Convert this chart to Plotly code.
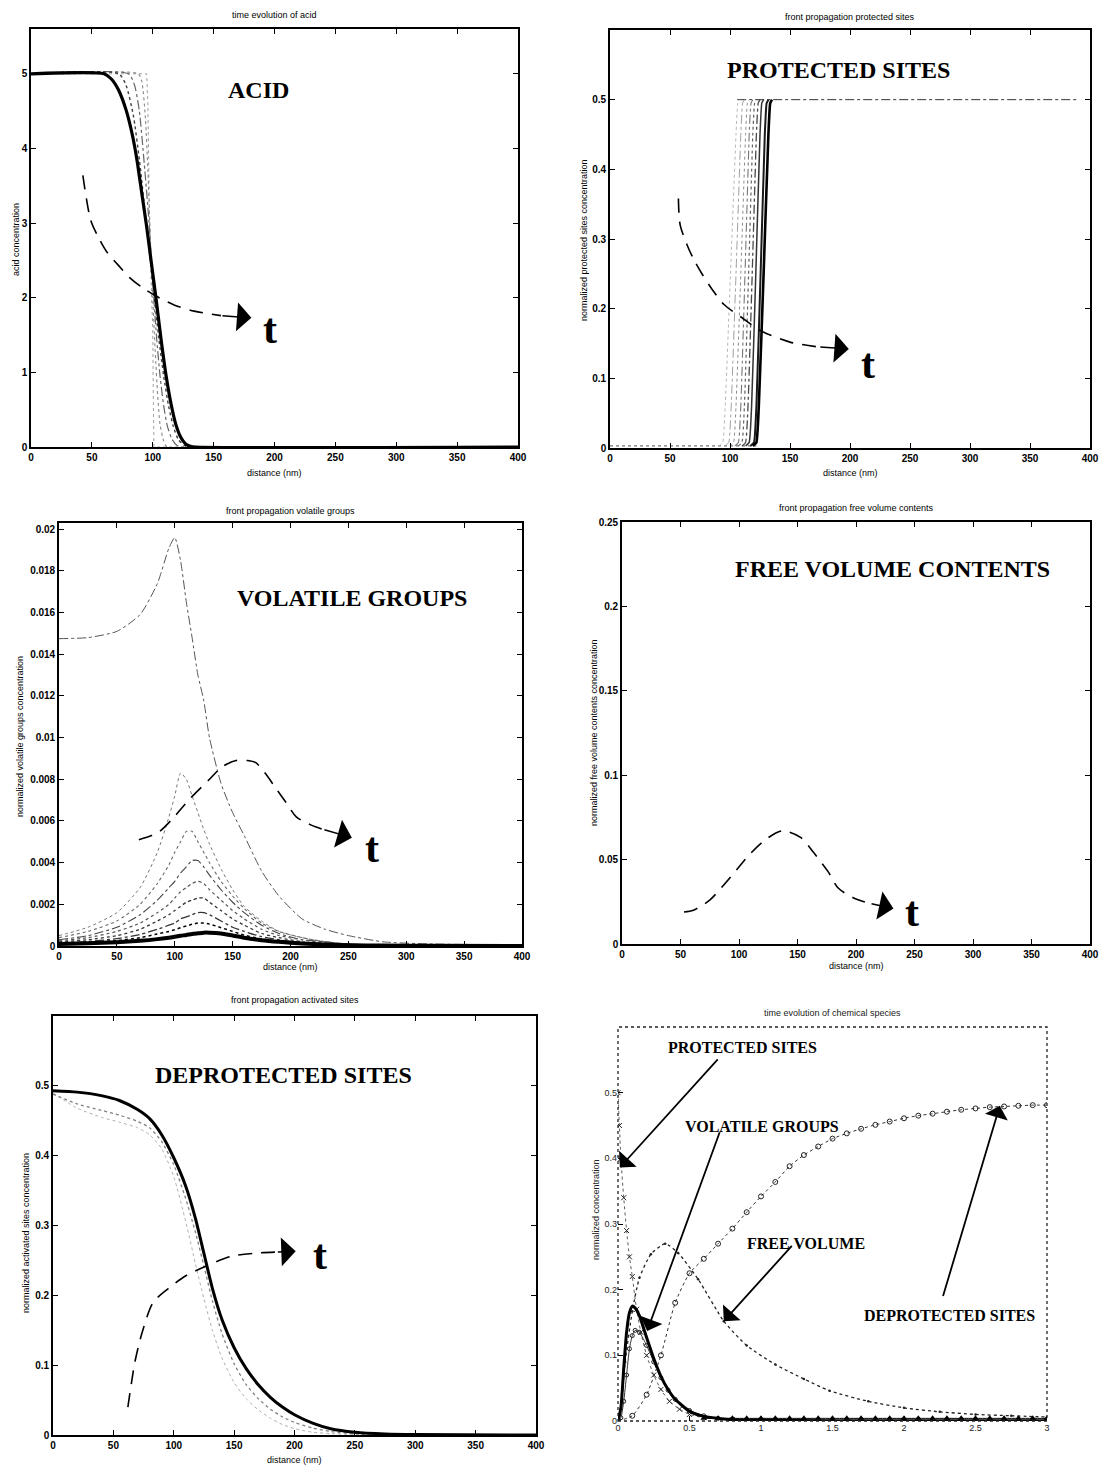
import plotly.graph_objects as go

W, H = 1111, 1467

# ---------------- panel 1 : acid ----------------
ACID_X = [
    [0, 95, 96, 97, 99, 100, 100.5, 101, 400],
    [0, 88, 91, 94, 96, 98, 100, 102, 104, 106, 109, 112, 400],
    [0, 80, 85, 89, 93, 97, 100, 103, 106, 109, 112, 116, 120, 124, 400],
    [0, 72, 78, 84, 89, 94, 100, 105, 109, 113, 117, 121, 126, 130, 400],
    [0, 60, 66, 72, 78, 83, 87, 91, 95, 99, 103, 107, 111, 115, 119, 123, 127, 131, 135, 400],
]
ACID_Y = [
    [5, 5, 4.6, 3.4, 2.0, 1.6, 0.6, 0, 0],
    [5, 5, 4.9, 4.4, 3.7, 2.8, 2.0, 1.3, 0.7, 0.3, 0.08, 0, 0],
    [5, 5, 4.85, 4.5, 3.8, 3.0, 2.2, 1.5, 0.95, 0.55, 0.28, 0.1, 0.02, 0, 0],
    [5, 5, 4.85, 4.45, 3.85, 3.1, 2.2, 1.45, 0.95, 0.55, 0.27, 0.1, 0.02, 0, 0],
    [5, 5, 4.93, 4.78, 4.52, 4.2, 3.85, 3.4, 2.95, 2.45, 1.95, 1.42, 0.95, 0.58, 0.3, 0.13, 0.04, 0.01, 0, 0],
]
ACID_ARROW_X = [42.6, 49, 55, 62, 72, 81, 92, 103, 118, 134, 156]
ACID_ARROW_Y = [3.64, 3.04, 2.82, 2.62, 2.43, 2.27, 2.13, 2.02, 1.9, 1.82, 1.76]
ACID_ARROW_TIP = (181, 1.73)

# ---------------- panel 2 : protected sites ----------------
PROT_X = [
    [91, 94, 96, 100.4, 105, 106.5, 108],
    [96, 99, 101, 105, 109, 110.5, 112],
    [100, 103, 105, 109, 113, 114.5, 116],
    [104, 107, 109, 112.5, 116, 117.5, 119],
    [107, 110, 112, 115.5, 119, 120.5, 122],
    [110, 113, 115, 118.5, 122, 123.5, 125],
    [113, 116, 118, 121.5, 125, 126.5, 128],
    [117, 120, 122, 125.5, 129, 130.5, 132],
    [119, 122, 124, 128, 132, 133.5, 135],
]
PROT_Y = [0.003, 0.008, 0.06, 0.25, 0.45, 0.495, 0.5]
PROT_BASE_X = [0, 122]
PROT_BASE_Y = [0.003, 0.003]
PROT_TOP_X = [106, 390]
PROT_TOP_Y = [0.5, 0.5]
PROT_ARROW_X = [57, 58.5, 64.6, 70, 77, 85, 95, 110, 126, 150, 174]
PROT_ARROW_Y = [0.358, 0.32, 0.29, 0.27, 0.249, 0.228, 0.206, 0.187, 0.168, 0.152, 0.145]
PROT_ARROW_TIP = (199, 0.142)

# ---------------- panel 3 : volatile groups ----------------
VOL_X = [0, 25, 50, 70, 85, 95, 100, 105, 110, 115, 120, 125, 130, 140, 150, 160,
         175, 190, 210, 230, 250, 280, 320, 400]
VOL_Y = [
    [0.01475, 0.0148, 0.0151, 0.0159, 0.0174, 0.0191, 0.0196, 0.0185, 0.0165, 0.0148, 0.0130, 0.0118,
     0.0100, 0.0078, 0.0064, 0.0053, 0.0036, 0.0024, 0.0013, 0.0008, 0.0005, 0.0002, 0.0001, 0.00005],
    [0.0005, 0.0009, 0.0016, 0.0028, 0.0045, 0.0062, 0.0072, 0.0083, 0.0080, 0.0072, 0.0064, 0.0056,
     0.0049, 0.0037, 0.0027, 0.0019, 0.0012, 0.0007, 0.0004, 0.0002, 0.0001, 0.00005, 0.00003, 0],
    [0.0004, 0.0007, 0.0012, 0.0020, 0.0030, 0.0039, 0.0045, 0.0050, 0.0055, 0.0055, 0.0050, 0.0045,
     0.0040, 0.0031, 0.0024, 0.0018, 0.0011, 0.0007, 0.0004, 0.0002, 0.0001, 0.00005, 0.00002, 0],
    [0.0003, 0.0005, 0.0009, 0.0015, 0.0022, 0.0028, 0.0031, 0.0035, 0.0038, 0.0041, 0.0041, 0.0038,
     0.0034, 0.0027, 0.0021, 0.0016, 0.0010, 0.0006, 0.0003, 0.0002, 0.0001, 0.00004, 0.00002, 0],
    [0.00025, 0.0004, 0.0007, 0.0011, 0.0016, 0.0020, 0.0023, 0.0026, 0.0028, 0.0030, 0.0031, 0.0030,
     0.0027, 0.0022, 0.0017, 0.0013, 0.0008, 0.0005, 0.0003, 0.00015, 0.00008, 0.00004, 0.00002, 0],
    [0.0002, 0.0003, 0.0005, 0.0008, 0.0012, 0.0015, 0.0017, 0.0019, 0.0021, 0.0022, 0.0023, 0.0023,
     0.0021, 0.0017, 0.0013, 0.0010, 0.0006, 0.0004, 0.0002, 0.0001, 0.00006, 0.00003, 0.00001, 0],
    [0.00015, 0.00022, 0.00035, 0.00055, 0.0008, 0.0010, 0.0011, 0.0013, 0.0014, 0.0015, 0.0016, 0.0016,
     0.0015, 0.0012, 0.0009, 0.0007, 0.00045, 0.0003, 0.00015, 0.00008, 0.00004, 0.00002, 0.00001, 0],
    [0.00012, 0.00017, 0.00026, 0.0004, 0.00058, 0.0007, 0.00078, 0.00088, 0.00096, 0.00104, 0.0011, 0.0011,
     0.00105, 0.00088, 0.0007, 0.00052, 0.00034, 0.00022, 0.00012, 0.00006, 0.00003, 0.00001, 0.00001, 0],
    [0.0001, 0.00013, 0.00018, 0.00025, 0.00033, 0.0004, 0.00044, 0.00049, 0.00053, 0.00058, 0.00061, 0.00064,
     0.00064, 0.0006, 0.0005, 0.0004, 0.00028, 0.0002, 0.00012, 0.00007, 0.00004, 0.00002, 0.00001, 0],
]
VOL_ARROW_X = [69, 80, 87, 98, 112, 130, 141, 153, 163, 170, 178, 187, 196, 205, 218, 228]
VOL_ARROW_Y = [0.0051, 0.0053, 0.0055, 0.0061, 0.0070, 0.0080, 0.0086, 0.0089, 0.0089, 0.0088,
               0.0083, 0.0076, 0.0069, 0.0062, 0.0058, 0.0056]
VOL_ARROW_TIP = (253, 0.0052)

# ---------------- panel 4 : free volume contents ----------------
FREE_ARROW_X = [53, 61, 75, 87, 98, 109, 123, 137, 153, 164, 176, 185, 199, 212]
FREE_ARROW_Y = [0.019, 0.020, 0.026, 0.035, 0.044, 0.053, 0.062, 0.067, 0.063, 0.054, 0.043,
                0.033, 0.027, 0.024]
FREE_ARROW_TIP = (232, 0.021)

# ---------------- panel 5 : deprotected (activated) sites ----------------
DEP_X = [0, 20, 40, 55, 70, 80, 90, 100, 110, 118, 125, 132, 140, 150, 160, 170, 180, 190,
         200, 215, 230, 250, 275, 300, 400]
DEP_Y = [
    [0.49, 0.468, 0.455, 0.448, 0.44, 0.43, 0.41, 0.37, 0.305, 0.245, 0.195, 0.15, 0.11, 0.075,
     0.052, 0.036, 0.024, 0.015, 0.009, 0.004, 0.002, 0.0008, 0.0002, 0, 0],
    [0.488, 0.474, 0.465, 0.458, 0.449, 0.44, 0.42, 0.387, 0.338, 0.29, 0.242, 0.192, 0.145,
     0.102, 0.072, 0.052, 0.037, 0.026, 0.018, 0.01, 0.005, 0.002, 0.0008, 0.0003, 0],
    [0.493, 0.491, 0.486, 0.479, 0.466, 0.453, 0.43, 0.397, 0.356, 0.31, 0.26, 0.21, 0.165,
     0.125, 0.095, 0.072, 0.054, 0.04, 0.029, 0.017, 0.009, 0.004, 0.0015, 0.0006, 0],
]
DEP_ARROW_X = [62, 65, 68, 74, 83, 95, 110, 127, 148, 172, 185]
DEP_ARROW_Y = [0.04, 0.075, 0.106, 0.148, 0.19, 0.209, 0.228, 0.242, 0.256, 0.261, 0.262]
DEP_ARROW_TIP = (201, 0.263)

# ---------------- panel 6 : time evolution of chemical species ----------------
T_DEP = [0, 0.1, 0.2, 0.3, 0.4, 0.5, 0.6, 0.7, 0.8, 0.9, 1.0, 1.1, 1.2, 1.3, 1.4, 1.5, 1.6,
         1.7, 1.8, 1.9, 2.0, 2.1, 2.2, 2.3, 2.4, 2.5, 2.6, 2.7, 2.8, 2.9, 3.0]
C_DEP = [0, 0.008, 0.04, 0.1, 0.18, 0.225, 0.247, 0.27, 0.293, 0.318, 0.342, 0.364, 0.388,
         0.405, 0.418, 0.43, 0.438, 0.445, 0.451, 0.456, 0.461, 0.465, 0.468, 0.471, 0.474,
         0.476, 0.478, 0.479, 0.48, 0.481, 0.481]
T_PROT = [0, 0.01, 0.02, 0.04, 0.06, 0.08, 0.1, 0.13, 0.16, 0.2, 0.25, 0.3, 0.36, 0.43, 0.5,
          0.6, 0.8, 1.0, 1.5, 2.0, 2.5, 3.0]
C_PROT = [0.5, 0.45, 0.4, 0.34, 0.29, 0.25, 0.22, 0.17, 0.135, 0.1, 0.07, 0.048, 0.03, 0.018,
          0.01, 0.005, 0.002, 0.001, 0.0005, 0.0003, 0.0002, 0.0001]
T_VOL = [0, 0.02, 0.04, 0.06, 0.08, 0.1, 0.12, 0.15, 0.2, 0.25, 0.3, 0.35, 0.4, 0.5, 0.6,
         0.7, 0.8, 1.0, 1.5, 2.0, 3.0]
C_VOL = [0, 0.02, 0.08, 0.135, 0.165, 0.175, 0.172, 0.16, 0.127, 0.095, 0.068, 0.048, 0.033,
         0.015, 0.007, 0.004, 0.002, 0.001, 0.0005, 0.0003, 0.0002]
C_VOL_B = [0, 0.005, 0.03, 0.07, 0.11, 0.13, 0.138, 0.135, 0.115, 0.09, 0.066, 0.047, 0.033,
           0.016, 0.008, 0.004, 0.002, 0.001, 0.0005, 0.0003, 0.0002]
T_FREE = [0, 0.025, 0.05, 0.1, 0.15, 0.23, 0.33, 0.42, 0.56, 0.74, 0.9, 1.1, 1.3, 1.48, 1.75,
          2.0, 2.25, 2.5, 2.75, 3.0]
C_FREE = [0, 0.03, 0.09, 0.167, 0.218, 0.254, 0.27, 0.256, 0.216, 0.152, 0.115, 0.086, 0.064,
          0.046, 0.03, 0.02, 0.014, 0.01, 0.008, 0.006]
T_BASE = [0.6, 0.7, 0.8, 0.9, 1.0, 1.1, 1.2, 1.3, 1.4, 1.5, 1.6, 1.7, 1.8, 1.9, 2.0, 2.1,
          2.2, 2.3, 2.4, 2.5, 2.6, 2.7, 2.8, 2.9, 3.0]
C_BASE = [0.004] * len(T_BASE)

# panel frames in pixels: (left, right, top, bottom)
PANELS = {
    1: (31, 518, 29, 447),
    2: (610, 1090, 30, 448),
    3: (59, 522, 523, 946),
    4: (622, 1090, 522, 944),
    5: (53, 536, 1016, 1435),
    6: (618, 1047, 1027, 1421),
}

fig = go.Figure()


def ax_names(i):
    return ("x" if i == 1 else f"x{i}"), ("y" if i == 1 else f"y{i}")


def add_line(i, x, y, color="black", width=1.0, dash="solid", mode="lines", marker=None,
             shape="spline", smoothing=0.6):
    xa, ya = ax_names(i)
    kw = dict(x=x, y=y, xaxis=xa, yaxis=ya, mode=mode, showlegend=False, hoverinfo="skip",
              line=dict(color=color, width=width, dash=dash, shape=shape))
    if shape == "spline":
        kw["line"]["smoothing"] = smoothing
    if marker:
        kw["marker"] = marker
    fig.add_trace(go.Scatter(**kw))


# acid family
acid_styles = [("#a0a0a0", 1.0, "dot"), ("#8a8a8a", 1.1, "dot"), ("#666666", 1.2, "dashdot"),
               ("#404040", 1.4, "dot"), ("black", 3.2, "solid")]
for k, (xs, ys) in enumerate(zip(ACID_X, ACID_Y)):
    c, w, d = acid_styles[k]
    add_line(1, xs, ys, c, w, d, shape="linear" if k == 0 else "spline")

# protected sites family: flat base, rising fronts, flat plateau
add_line(2, PROT_BASE_X, PROT_BASE_Y, "#555555", 1.0, "dot", shape="linear")
add_line(2, PROT_TOP_X, PROT_TOP_Y, "#333333", 1.0, "dashdot", shape="linear")
prot_styles = [("#b5b5b5", 1.0, "dot"), ("#a0a0a0", 1.0, "dashdot"), ("#8c8c8c", 1.0, "dot"),
               ("#777777", 1.1, "dashdot"), ("#606060", 1.2, "dot"), ("#4a4a4a", 1.3, "dashdot"),
               ("#333333", 1.5, "solid"), ("#1a1a1a", 2.0, "solid"), ("black", 2.6, "solid")]
for k, xs in enumerate(PROT_X):
    c, w, d = prot_styles[k]
    add_line(2, xs, PROT_Y, c, w, d, smoothing=0.4)

# volatile groups family
vol_styles = [("#555555", 1.0, "dashdot"), ("#777777", 1.0, "dot"), ("#666666", 1.1, "dot"),
              ("#444444", 1.1, "dashdot"), ("#555555", 1.2, "dot"), ("#333333", 1.3, "dot"),
              ("#333333", 1.3, "dashdot"), ("black", 1.5, "dot"), ("black", 4.0, "solid")]
for k, ys in enumerate(VOL_Y):
    c, w, d = vol_styles[k]
    add_line(3, VOL_X, ys, c, w, d)

# deprotected sites family
dep_styles = [("#b0b0b0", 1.0, "dot"), ("#808080", 1.3, "dot"), ("black", 3.0, "solid")]
for k, ys in enumerate(DEP_Y):
    c, w, d = dep_styles[k]
    add_line(5, DEP_X, ys, c, w, d)

# dashed "time" arrows
for i, xs, ys in [(1, ACID_ARROW_X, ACID_ARROW_Y), (2, PROT_ARROW_X, PROT_ARROW_Y),
                  (3, VOL_ARROW_X, VOL_ARROW_Y), (4, FREE_ARROW_X, FREE_ARROW_Y),
                  (5, DEP_ARROW_X, DEP_ARROW_Y)]:
    add_line(i, xs, ys, "black", 1.6, "14px,9px", smoothing=0.8)

# chemical species vs time
add_line(6, T_FREE, C_FREE, "#222222", 1.3, "dot", mode="lines+markers",
         marker=dict(symbol="circle", size=2.5, color="#222222"))
add_line(6, T_PROT, C_PROT, "#333333", 0.8, "dot", mode="lines+markers",
         marker=dict(symbol="x-thin", size=5, line=dict(color="#222222", width=1)))
add_line(6, T_VOL, C_VOL_B, "#333333", 1.0, "solid", mode="lines+markers",
         marker=dict(symbol="circle-open", size=4, color="#222222", line=dict(width=1)))
add_line(6, T_VOL, C_VOL, "black", 3.0, "solid")
add_line(6, T_DEP, C_DEP, "#333333", 1.0, "dot", mode="lines+markers",
         marker=dict(symbol="circle-open", size=5, color="#222222", line=dict(width=1)))
add_line(6, T_BASE, C_BASE, "black", 1.0, "solid", mode="lines+markers",
         marker=dict(symbol="triangle-up", size=6, color="black"))

# ---------------- axes ----------------
TICKFONT = dict(family="Liberation Sans", size=10, color="black", weight="bold")
X_TICKS = [0, 50, 100, 150, 200, 250, 300, 350, 400]
Y_RANGES = {1: [0, 5.6], 2: [0, 0.6], 3: [0, 0.0203], 4: [0, 0.25], 5: [0, 0.6], 6: [0, 0.6]}
Y_TICKS = {
    1: [0, 1, 2, 3, 4, 5],
    2: [0, 0.1, 0.2, 0.3, 0.4, 0.5],
    3: [0, 0.002, 0.004, 0.006, 0.008, 0.01, 0.012, 0.014, 0.016, 0.018, 0.02],
    4: [0, 0.05, 0.1, 0.15, 0.2, 0.25],
    5: [0, 0.1, 0.2, 0.3, 0.4, 0.5],
    6: [0, 0.1, 0.2, 0.3, 0.4, 0.5],
}
T_TICKS = [0, 0.5, 1, 1.5, 2, 2.5, 3]

layout_axes = {}
for i, (l, r, t, b) in PANELS.items():
    xa, ya = ax_names(i)
    xkey = "xaxis" if i == 1 else f"xaxis{i}"
    ykey = "yaxis" if i == 1 else f"yaxis{i}"
    framed = i != 6
    common = dict(showgrid=False, zeroline=False, ticks="inside", ticklen=5, tickwidth=1.2,
                  tickcolor="black", showline=framed, linecolor="black", linewidth=1.6,
                  mirror="ticks" if framed else False, automargin=False,
                  tickfont=TICKFONT if framed else dict(family="Liberation Sans", size=9,
                                                        color="#222222"))
    xt = T_TICKS if i == 6 else X_TICKS
    layout_axes[xkey] = dict(common, domain=[l / W, r / W], anchor=ya,
                             range=[0, 3] if i == 6 else [0, 400],
                             tickvals=xt, ticktext=[f"{v:g}" for v in xt])
    layout_axes[ykey] = dict(common, domain=[1 - b / H, 1 - t / H], anchor=xa,
                             range=Y_RANGES[i], tickvals=Y_TICKS[i],
                             ticktext=[f"{v:g}" for v in Y_TICKS[i]])
fig.update_layout(**layout_axes)

# dotted frame of the last panel
fig.add_shape(type="rect", xref="x6 domain", yref="y6 domain", x0=0, x1=1, y0=0, y1=1,
              line=dict(color="#222222", width=1.3, dash="dot"))

ann = []
SMALL = dict(family="Liberation Sans", size=9, color="black")


def paper_text(txt, px, py, angle=0, font=SMALL):
    return dict(text=txt, xref="paper", yref="paper", x=px / W, y=1 - py / H,
                xanchor="center", yanchor="middle", textangle=angle, showarrow=False,
                font=font)


# panel titles
TITLES = ["time evolution of acid", "front propagation protected sites",
          "front propagation volatile groups", "front propagation free volume contents",
          "front propagation activated sites", "time evolution of chemical species"]
TITLE_Y = [15, 17, 511, 508, 1000, 1013]
for i, (txt, ty) in enumerate(zip(TITLES, TITLE_Y), start=1):
    l, r, t, b = PANELS[i]
    ann.append(paper_text(txt, (l + r) / 2, ty,
                          font=dict(SMALL, color="#222222" if i == 6 else "black")))

# x axis titles
for i, ty in [(1, 473), (2, 473), (3, 967), (4, 966), (5, 1460)]:
    l, r, t, b = PANELS[i]
    ann.append(paper_text("distance (nm)", (l + r) / 2, ty))

# y axis titles
YLABELS = [(1, "acid concentration", 16, 240),
           (2, "normalized protected sites concentration", 584, 240),
           (3, "normalized volatile groups concentration", 20, 737),
           (4, "normalized free volume contents concentration", 594, 733),
           (5, "normalized activated sites concentration", 26, 1233),
           (6, "normalized concentration", 596, 1210)]
for i, txt, lx, ly in YLABELS:
    ann.append(paper_text(txt, lx, ly, angle=-90,
                          font=dict(SMALL, color="#222222" if i == 6 else "black")))

BIG = dict(family="Liberation Serif", size=24, color="black", weight="bold")
TBIG = dict(family="Liberation Serif", size=42, color="black", weight="bold")
LABELS = [(1, "ACID", 187, 4.78), (2, "PROTECTED SITES", 190, 0.543),
          (3, "VOLATILE GROUPS", 253, 0.0167), (4, "FREE VOLUME CONTENTS", 231, 0.222),
          (5, "DEPROTECTED SITES", 191, 0.516)]
for i, txt, x, y in LABELS:
    xa, ya = ax_names(i)
    ann.append(dict(text=txt, xref=xa, yref=ya, x=x, y=y, showarrow=False,
                    xanchor="center", yanchor="middle", font=BIG))

T_POS = [(1, 196, 1.58), (2, 215, 0.121), (3, 270, 0.0047), (4, 248, 0.019), (5, 221, 0.258)]
for i, x, y in T_POS:
    xa, ya = ax_names(i)
    ann.append(dict(text="t", xref=xa, yref=ya, x=x, y=y, showarrow=False,
                    xanchor="center", yanchor="middle", font=TBIG))

# arrowheads of the dashed arrows
for i, xs, ys, tip in [(1, ACID_ARROW_X, ACID_ARROW_Y, ACID_ARROW_TIP),
                       (2, PROT_ARROW_X, PROT_ARROW_Y, PROT_ARROW_TIP),
                       (3, VOL_ARROW_X, VOL_ARROW_Y, VOL_ARROW_TIP),
                       (4, FREE_ARROW_X, FREE_ARROW_Y, FREE_ARROW_TIP),
                       (5, DEP_ARROW_X, DEP_ARROW_Y, DEP_ARROW_TIP)]:
    xa, ya = ax_names(i)
    ann.append(dict(text="", xref=xa, yref=ya, axref=xa, ayref=ya, x=tip[0], y=tip[1],
                    ax=xs[-1], ay=ys[-1], showarrow=True, arrowhead=1, arrowsize=3.2,
                    arrowwidth=1.5, arrowcolor="black", standoff=0, startstandoff=0))

# species labels with pointer arrows
SPECIES = [("PROTECTED SITES", 0.868, 0.569, (0.707, 0.553), (0.013, 0.386)),
           ("VOLATILE GROUPS", 1.01, 0.449, (0.715, 0.442), (0.204, 0.137)),
           ("FREE VOLUME", 1.315, 0.27, (1.225, 0.269), (0.74, 0.152)),
           ("DEPROTECTED SITES", 2.32, 0.16, (2.27, 0.188), (2.67, 0.48))]
for txt, x, y, tail, tip in SPECIES:
    ann.append(dict(text=txt, xref="x6", yref="y6", x=x, y=y, showarrow=False,
                    xanchor="center", yanchor="middle", font=dict(BIG, size=16)))
    ann.append(dict(text="", xref="x6", yref="y6", axref="x6", ayref="y6", x=tip[0], y=tip[1],
                    ax=tail[0], ay=tail[1], showarrow=True, arrowhead=1, arrowsize=2.2,
                    arrowwidth=1.8, arrowcolor="black", standoff=0, startstandoff=0))

fig.update_layout(annotations=ann, width=W, height=H, margin=dict(l=0, r=0, t=0, b=0),
                  paper_bgcolor="white", plot_bgcolor="white", showlegend=False)

fig.write_html("out.html")
